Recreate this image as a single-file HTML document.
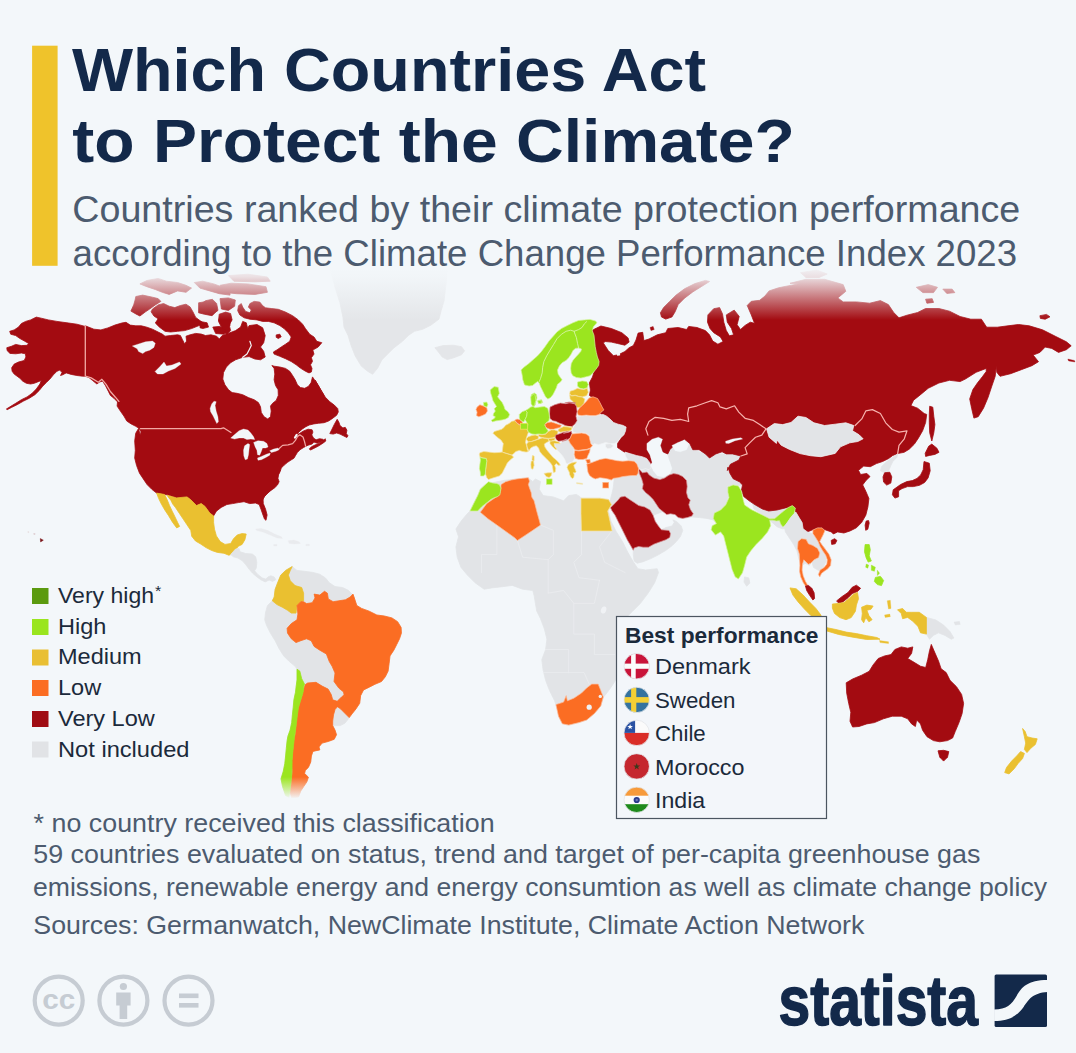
<!DOCTYPE html>
<html><head><meta charset="utf-8"><title>Which Countries Act to Protect the Climate?</title>
<style>
html,body{margin:0;padding:0;background:#f3f7fa;}
body{width:1076px;height:1053px;overflow:hidden;font-family:"Liberation Sans",sans-serif;}
svg{display:block;font-family:"Liberation Sans",sans-serif;}
</style></head><body>
<svg width="1076" height="1053" viewBox="0 0 1076 1053">
<rect width="1076" height="1053" fill="#f3f7fa"/>
<g id="map">
<path d="M85.3,325.8 93.9,329.2 100.9,329.9 107.9,327.9 114.9,325.1 121.8,323.0 126.0,322.3 130.2,325.1 135.8,325.8 141.3,325.8 146.9,327.2 152.5,329.2 158.1,332.0 162.3,334.1 165.0,336.2 170.6,335.5 177.6,334.8 180.4,335.5 182.5,339.7 184.6,343.9 186.6,341.1 186.0,336.2 190.1,334.8 195.7,333.4 201.3,334.1 205.5,335.5 211.0,334.8 216.6,336.2 219.4,339.0 222.2,335.5 230.0,332.7 235.6,330.6 240.6,327.1 242.7,321.4 246.3,322.8 247.7,328.5 249.1,325.6 257.0,324.5 262.7,327.8 265.2,335.6 263.7,342.7 260.5,347.0 263.7,351.3 265.2,357.0 260.5,359.8 254.8,359.0 249.1,356.6 242.7,357.3 235.6,359.8 230.6,362.7 226.4,367.0 223.5,372.6 222.8,379.1 224.9,384.8 228.5,389.7 232.1,392.6 237.0,393.3 242.7,394.7 248.4,397.6 254.1,399.7 258.4,402.6 260.5,406.8 261.3,412.5 264.1,416.8 267.7,418.9 270.5,416.8 271.2,411.1 270.5,406.1 272.6,403.3 276.2,400.4 278.3,395.4 278.1,389.7 275.5,385.5 274.1,379.8 274.8,374.1 274.1,368.4 271.9,365.5 274.1,366.2 279.8,367.0 285.5,368.4 289.7,371.2 292.6,375.5 295.2,379.8 297.4,384.8 300.4,387.5 304.7,388.3 308.5,386.3 311.1,382.6 312.5,376.9 315.4,381.2 318.2,385.5 321.1,391.2 323.9,395.4 315.0,380.0 318.4,385.7 321.8,391.4 325.2,397.1 329.8,401.7 334.3,405.1 337.7,408.5 338.3,411.9 336.6,415.3 332.1,418.7 328.6,421.0 324.1,422.7 318.4,423.3 313.8,423.9 309.3,425.0 305.8,426.7 302.4,429.0 299.0,431.9 296.7,434.7 299.0,433.8 303.6,430.9 308.1,429.2 312.1,429.8 312.9,432.1 311.8,434.9 313.5,438.1 316.1,439.8 319.5,438.7 322.9,439.3 324.1,440.4 320.7,442.1 317.2,443.2 314.0,442.1 312.1,444.0 308.1,445.2 305.8,446.3 303.6,447.5 300.1,449.7 297.3,452.6 295.6,455.4 293.9,458.3 291.0,460.0 287.6,462.3 284.2,465.1 281.3,468.0 280.2,471.4 278.5,474.8 277.9,478.2 279.1,481.7 277.4,485.1 274.5,487.9 270.5,490.8 267.1,493.6 264.2,496.5 262.5,500.0 280.0,470.3 278.1,475.1 277.2,480.8 274.3,485.5 270.6,490.3 266.8,494.1 263.0,497.9 263.3,503.6 265.6,509.3 267.1,515.0 266.0,520.3 264.5,519.1 263.0,515.0 261.1,509.6 259.2,504.5 255.4,503.0 249.7,503.6 244.0,501.7 238.3,502.6 232.6,503.6 226.9,504.5 221.2,507.4 216.4,511.2 213.6,515.9 209.8,513.1 205.0,506.4 201.2,503.6 196.5,505.5 190.8,499.8 187.0,496.9 176.5,497.9 168.0,495.0 156.6,493.1 151.8,489.3 147.1,484.6 143.3,478.9 139.5,473.2 136.6,465.6 134.7,458.0 135.3,450.4 134.7,440.9 135.7,433.3 138.5,428.5 140.3,435.3 141.0,431.8 138.9,428.2 135.3,426.1 131.1,423.9 126.8,421.1 123.9,416.1 120.4,411.1 117.1,406.1 117.5,401.9 114.0,398.3 110.4,395.4 108.3,391.2 105.4,385.5 102.6,381.2 99.7,381.9 96.9,384.0 92.6,380.5 89.0,377.6 85.2,376.2 82.6,376.2 76.9,375.5 71.2,374.4 66.2,372.9 62.7,374.8 60.5,375.5 62.0,372.6 59.8,370.1 57.0,371.2 53.4,374.8 49.9,379.1 46.3,382.6 42.7,386.2 39.2,390.5 34.9,394.7 29.2,398.3 23.5,401.1 17.1,404.7 11.4,407.5 7.1,409.7 6.4,409.0 10.0,406.8 15.7,403.3 21.4,399.7 27.1,396.9 32.1,393.3 36.3,389.0 39.9,384.0 41.3,380.5 37.7,381.9 34.2,383.3 30.6,384.0 26.4,383.3 22.8,381.2 19.9,378.3 17.1,376.2 14.2,374.1 12.1,371.2 11.7,367.7 14.2,364.1 18.5,362.0 24.2,360.5 25.9,357.0 25.4,353.8 21.4,353.0 15.7,353.8 10.0,353.4 7.1,350.6 6.8,347.7 11.4,346.3 15.7,344.4 21.4,345.6 27.1,345.3 28.5,343.4 24.9,341.3 19.9,338.5 15.7,335.6 10.7,334.2 9.7,331.3 14.2,329.9 18.5,327.1 21.4,323.5 25.6,321.4 30.6,319.9 36.3,317.1 41.3,318.2 48.4,319.9 57.0,321.4 67.0,322.8 76.9,324.2 85.2,326.4Z" fill="#a30b11" stroke="#a30b11" stroke-width="0.8" stroke-linejoin="round"/>
<path d="M135.8,296.5 142.7,295.1 152.5,297.2 158.1,298.6 160.9,301.4 155.3,304.9 149.7,309.0 145.5,311.8 139.9,316.0 135.8,313.9 130.9,311.1 133.7,304.9 135.1,300.0Z" fill="#a30b11" stroke="#a30b11" stroke-width="0.8" stroke-linejoin="round"/>
<path d="M152.5,309.0 158.1,304.9 163.6,303.5 169.2,306.2 174.8,307.6 180.4,305.5 186.0,304.2 190.1,306.9 192.9,311.8 195.7,317.4 201.3,321.6 204.1,323.7 198.5,325.8 191.5,328.6 184.6,330.6 177.6,331.3 170.6,332.0 165.0,331.3 159.5,327.2 155.3,323.0 158.1,318.8 153.9,316.0 151.1,311.8Z" fill="#a30b11" stroke="#a30b11" stroke-width="0.8" stroke-linejoin="round"/>
<path d="M139.9,283.9 146.9,280.5 158.1,278.4 166.4,281.2 177.6,282.5 186.0,285.3 191.5,288.1 186.0,292.3 177.6,290.9 169.2,294.4 162.3,292.3 155.3,289.5 146.9,286.7Z" fill="#a30b11" stroke="#a30b11" stroke-width="0.8" stroke-linejoin="round"/>
<path d="M194.3,282.5 202.7,281.2 213.8,283.9 225.0,288.1 230.0,290.9 230.0,295.1 219.4,293.7 209.7,290.9 199.9,288.1Z" fill="#a30b11" stroke="#a30b11" stroke-width="0.8" stroke-linejoin="round"/>
<path d="M199.9,304.9 205.5,300.7 212.4,299.3 216.6,303.5 218.0,310.4 212.4,314.6 205.5,310.4Z" fill="#a30b11" stroke="#a30b11" stroke-width="0.8" stroke-linejoin="round"/>
<path d="M220.8,314.6 226.4,313.2 230.0,316.0 230.0,325.8 223.6,325.8 218.7,320.2Z" fill="#a30b11" stroke="#a30b11" stroke-width="0.8" stroke-linejoin="round"/>
<path d="M198.6,302.8 207.1,301.4 214.2,303.6 216.0,311.4 212.1,315.7 204.3,314.2 198.6,312.8Z" fill="#a30b11" stroke="#a30b11" stroke-width="0.8" stroke-linejoin="round"/>
<path d="M219.2,314.2 225.6,312.1 230.6,313.5 232.1,319.9 229.2,324.9 230.6,330.6 227.1,334.2 222.8,332.1 221.4,327.1 218.5,321.4Z" fill="#a30b11" stroke="#a30b11" stroke-width="0.8" stroke-linejoin="round"/>
<path d="M200.0,321.4 207.1,322.8 208.5,327.1 202.8,328.5 200.0,327.8Z" fill="#a30b11" stroke="#a30b11" stroke-width="0.8" stroke-linejoin="round"/>
<path d="M212.8,327.1 219.9,326.4 225.6,329.9 224.2,334.2 215.7,333.5Z" fill="#a30b11" stroke="#a30b11" stroke-width="0.8" stroke-linejoin="round"/>
<path d="M274.1,354.1 279.8,356.3 285.5,358.7 291.2,361.5 296.2,364.8 300.4,368.1 305.4,371.2 309.0,372.9 311.4,371.9 312.0,368.4 310.5,364.8 312.5,361.3 311.4,357.7 314.0,354.1 312.8,350.1 318.2,347.0 321.8,342.7 316.8,341.3 314.0,337.0 309.7,334.2 305.4,328.5 302.6,324.2 298.3,319.9 292.6,315.7 285.5,312.1 278.3,309.3 271.2,308.5 265.5,307.8 262.7,305.7 259.8,302.1 254.1,301.4 249.9,303.6 248.4,307.1 251.3,310.0 249.9,312.8 245.6,311.4 242.7,307.1 241.3,303.6 238.5,305.7 237.7,310.7 239.9,315.0 244.2,317.8 249.9,319.2 257.0,319.9 262.7,321.4 268.4,321.4 274.1,322.8 279.8,325.6 284.0,328.5 288.3,332.8 291.2,337.0 289.7,341.3 285.5,344.2 281.2,347.0 276.9,349.9 273.4,352.0Z" fill="#a30b11" stroke="#a30b11" stroke-width="0.8" stroke-linejoin="round"/>
<path d="M276.2,334.9 279.8,334.2 281.2,336.8 278.3,338.5 276.2,337.3Z" fill="#a30b11" stroke="#a30b11" stroke-width="0.8" stroke-linejoin="round"/>
<path d="M220.0,298.6 228.4,297.9 235.3,300.0 234.6,306.2 228.4,310.4 221.4,309.0Z" fill="#a30b11" stroke="#a30b11" stroke-width="0.8" stroke-linejoin="round"/>
<path d="M220.0,285.3 231.2,283.2 247.9,283.9 266.0,286.7 267.4,292.3 254.9,294.4 236.7,293.7 222.8,292.3Z" fill="#a30b11" stroke="#a30b11" stroke-width="0.8" stroke-linejoin="round"/>
<path d="M228.4,275.6 247.9,274.2 267.4,277.0 270.2,281.2 254.9,281.8 233.9,281.2Z" fill="#a30b11" stroke="#a30b11" stroke-width="0.8" stroke-linejoin="round"/>
<path d="M329.8,433.6 332.1,429.0 334.3,424.4 337.2,419.3 338.9,422.2 340.0,425.6 342.9,427.9 345.2,427.3 346.9,430.1 346.3,433.6 348.0,435.8 346.9,437.5 343.4,435.8 340.0,434.1 336.6,433.0 333.2,434.1Z" fill="#a30b11" stroke="#a30b11" stroke-width="0.8" stroke-linejoin="round"/>
<path d="M309.3,448.9 311.5,446.7 315.0,445.0 319.5,443.2 322.9,441.0 325.2,438.7 325.8,441.0 322.9,443.2 318.4,446.1 313.8,448.4 310.4,450.1Z" fill="#a30b11" stroke="#a30b11" stroke-width="0.8" stroke-linejoin="round"/>
<path d="M40.3,538.6 43.3,540.2 40.6,541.9Z" fill="#7a1418" stroke="#7a1418" stroke-width="0.5" stroke-linejoin="round"/>
<path d="M33.6,533.4 35.2,533.6 35,534.6 33.8,534.4Z" fill="#d9c6c8" stroke="#d9c6c8" stroke-width="0.3" stroke-linejoin="round"/>
<path d="M27.8,531.6 29,531.8 28.8,532.6 27.8,532.4Z" fill="#e3d9da" stroke="#e3d9da" stroke-width="0.3" stroke-linejoin="round"/>
<path d="M132.3,346.0 138.6,343.9 145.5,341.8 152.5,341.1 155.3,343.2 153.9,347.4 149.7,350.2 145.5,351.6 142.7,353.6 138.6,351.6 137.2,348.8Z" fill="#f3f7fa" stroke="#f3f7fa" stroke-width="0.3" stroke-linejoin="round"/>
<path d="M155,371.5 160,366.5 164,362 166.5,366 172,365 179.5,362 181,364 175,368.5 168.5,371 163,374 157.5,374Z" fill="#f3f7fa" stroke="#f3f7fa" stroke-width="0.3" stroke-linejoin="round"/>
<path d="M214.0,401.2 216.2,401.7 215.1,405.6 216.2,411.2 217.9,416.8 218.4,421.8 216.8,423.5 215.1,420.1 212.9,415.6 210.6,411.7 210.1,408.4 211.7,403.9Z" fill="#f3f7fa" stroke="#f3f7fa" stroke-width="0.3" stroke-linejoin="round"/>
<path d="M230.7,438.0 234.6,434.6 239.1,430.7 243.5,429.0 248.0,430.1 250.8,432.9 253.6,436.8 254.7,439.6 250.8,439.1 246.9,439.6 243.5,438.0 239.1,438.0 234.6,439.1Z" fill="#f3f7fa" stroke="#f3f7fa" stroke-width="0.3" stroke-linejoin="round"/>
<path d="M244.6,445.8 248.0,443.5 249.7,444.6 249.1,449.1 248.5,454.7 247.4,459.1 245.2,459.7 243.8,455.8 243.5,450.2Z" fill="#f3f7fa" stroke="#f3f7fa" stroke-width="0.3" stroke-linejoin="round"/>
<path d="M253.6,442.4 258.0,440.7 263.6,441.3 266.9,443.5 268.1,446.9 265.8,448.0 262.5,448.0 261.4,451.3 259.7,455.2 257.5,454.7 256.9,450.2 255.2,446.9Z" fill="#f3f7fa" stroke="#f3f7fa" stroke-width="0.3" stroke-linejoin="round"/>
<path d="M257.5,458.0 261.4,456.4 266.9,454.1 270.3,453.0 269.7,455.2 265.8,457.5 261.4,459.7 258.0,460.3Z" fill="#f3f7fa" stroke="#f3f7fa" stroke-width="0.3" stroke-linejoin="round"/>
<path d="M269.7,450.8 273.6,449.1 278.1,448.0 279.2,449.7 275.9,451.3 271.4,452.5Z" fill="#f3f7fa" stroke="#f3f7fa" stroke-width="0.3" stroke-linejoin="round"/>
<path d="M242.7,357.3 247.0,354.1 249.1,349.9 251.3,345.6 249.9,341.3" fill="none" stroke="#f3f7fa" stroke-width="1.2" stroke-linejoin="round" stroke-linecap="round"/>
<path d="M295.0,437.5 296.7,434.9" fill="none" stroke="#f3f7fa" stroke-width="2.2" stroke-linejoin="round" stroke-linecap="round"/>
<path d="M85.3,326 85.3,376 91.2,377.9 98.3,382.2 101.9,379.3 106.1,384.3 110.4,391.5 115.4,397.2 118.9,401.4" fill="none" stroke="#f2a9a5" stroke-width="1.3" stroke-linejoin="round" stroke-linecap="round"/>
<path d="M140.5,428.7 221,428.7 223.5,427.8 231,432.5" fill="none" stroke="#f2a9a5" stroke-width="1.3" stroke-linejoin="round" stroke-linecap="round"/>
<path d="M279.2,448.5 282.6,445.4 288.1,444.8 292.6,443.6 295.4,440.4 297.6,436.5 299.8,434.8 300.1,434.9 303.0,437.0 304.5,441.5 305.6,446.1" fill="none" stroke="#f2a9a5" stroke-width="1.2" stroke-linejoin="round" stroke-linecap="round"/>
<path d="M167.0,495.2 176.5,497.9 187.0,496.9 190.8,499.8 196.5,505.5 201.2,503.6 205.0,506.4 209.8,513.1 213.6,515.9 213.6,522.6 214.5,529.2 216.4,535.9 220.2,541.6 225.0,544.4 230.7,543.5 233.5,538.7 237.3,534.9 242.1,533.6 246.2,534.0 244.9,539.7 242.1,544.4 238.3,546.3 234.5,551.1 232.6,553.9 228.8,555.2 224.0,553.3 217.4,552.4 211.7,550.5 206.0,547.6 200.3,543.8 195.5,541.0 191.7,536.2 190.8,530.5 187.0,524.8 183.2,519.1 179.4,513.4 175.6,507.7 172.7,504.0 170.8,500.2 168.9,497.9Z" fill="#eac030" stroke="#eac030" stroke-width="0.8" stroke-linejoin="round"/>
<path d="M156.6,493.1 164.6,494.5 167.2,499.8 169.5,505.5 172.2,511.2 175.0,516.9 177.7,522.6 179.6,526.4 176.7,527.9 172.5,522.2 168.6,515.7 164.8,510.0 161.5,504.3 158.7,498.6Z" fill="#eac030" stroke="#eac030" stroke-width="0.8" stroke-linejoin="round"/>
<path d="M230.6,554.6 235.6,549.0 239.0,548.5 240.1,551.8 245.7,553.5 252.4,554.1 255.7,556.8 256.8,562.4 256.3,568.0 254.6,570.8 258.0,574.7 262.4,578.0 265.8,579.1 268.0,576.9 270.8,575.8 274.1,576.9 275.8,579.7 272.5,581.4 269.1,580.0 265.2,581.9 260.7,579.7 256.3,576.4 252.4,573.0 249.0,569.1 245.7,564.6 242.3,560.7 237.9,558.0 233.4,556.8Z" fill="#e2e4e7" stroke="#e2e4e7" stroke-width="0.8" stroke-linejoin="round"/>
<path d="M255.7,529.0 261.3,528.4 268.0,530.6 274.7,534.0 281.4,536.8 282.5,538.4 276.9,537.9 270.2,535.1 263.5,532.3 256.8,530.6Z" fill="#e9ebee" stroke="#e9ebee" stroke-width="0.3" stroke-linejoin="round"/>
<path d="M288.1,540.7 293.6,540.1 299.2,541.8 300.3,543.5 294.8,544.0 289.2,543.5Z" fill="#e9ebee" stroke="#e9ebee" stroke-width="0.3" stroke-linejoin="round"/>
<path d="M273.6,544.6 276.9,544.3 277.1,545.9 273.8,546.1Z" fill="#e9ebee" stroke="#e9ebee" stroke-width="0.3" stroke-linejoin="round"/>
<path d="M305.9,544.3 309.3,544.3 309.3,545.7 305.9,545.7Z" fill="#e9ebee" stroke="#e9ebee" stroke-width="0.3" stroke-linejoin="round"/>
<path d="M292.2,566.6 297.0,570.4 304.6,571.3 312.2,572.3 319.8,574.2 325.5,578.0 329.3,582.7 335.0,586.5 342.6,587.5 348.3,590.3 352.1,594.1 354.0,597.0 356.8,605.5 361.6,608.4 369.2,611.2 376.8,615.0 384.3,616.0 391.9,617.9 397.6,621.7 401.1,627.4 401.4,633.1 399.5,638.8 396.7,644.5 393.8,650.2 390.0,655.9 389.1,663.5 388.1,671.1 385.3,676.8 381.5,681.5 374.9,684.3 369.2,687.2 363.5,690.0 360.6,695.7 359.7,703.3 355.9,709.0 352.1,713.8 349.2,717.6 347.9,719.5 344.8,723.3 340.3,725.6 335.7,725.6 332.7,725.6 335.0,730.1 336.5,734.7 334.2,739.3 328.1,741.5 322.1,743.1 319.0,746.9 319.8,749.9 316.0,750.7 312.9,751.4 311.4,756.0 310.7,762.1 308.4,767.4 305.3,770.4 304.6,773.5 308.4,777.2 306.9,781.8 303.8,786.4 300.8,790.9 298.5,797.0 288.6,797.0 285.6,795.5 282.5,786.4 281.0,778.8 283.3,771.2 284.8,763.6 285.6,756.0 286.3,748.4 287.1,740.8 287.9,736.2 290.1,730.1 291.7,722.5 292.4,714.9 293.2,707.4 293.9,699.8 295.5,692.2 296.2,686.1 297.0,680.0 297.0,669.2 295.1,666.3 289.4,661.6 283.7,655.9 278.9,648.3 275.1,640.7 270.4,633.1 266.6,625.5 264.7,619.8 265.6,612.2 267.5,605.5 272.3,600.8 274.2,597.0 275.1,589.4 278.0,581.8 280.8,575.1 285.6,570.4 292.2,566.6Z" fill="#e2e4e7" stroke="#e2e4e7" stroke-width="0.8" stroke-linejoin="round"/>
<path d="M292.2,566.6 285.6,570.4 280.8,575.1 278.0,581.8 275.1,589.4 274.2,597.0 272.3,600.8 277.0,604.6 282.7,607.4 287.5,610.3 291.3,613.1 296.0,613.1 297.0,605.5 300.8,601.7 303.6,600.8 303.6,593.2 301.7,587.5 295.1,585.6 290.3,580.8 288.4,575.1 290.3,570.4Z" fill="#eac030" stroke="#eac030" stroke-width="0.8" stroke-linejoin="round"/>
<path d="M297.0,605.5 300.8,601.7 303.6,601.7 306.5,603.6 312.2,602.7 315.0,597.9 314.1,594.1 319.8,595.1 324.5,591.3 327.4,593.2 328.3,598.9 333.1,601.7 338.8,600.8 345.4,599.8 350.2,597.0 353.0,594.1 354.0,597.0 356.8,605.5 361.6,608.4 369.2,611.2 376.8,615.0 384.3,616.0 391.9,617.9 397.6,621.7 401.1,627.4 401.4,633.1 399.5,638.8 396.7,644.5 393.8,650.2 390.0,655.9 389.1,663.5 388.1,671.1 385.3,676.8 381.5,681.5 374.9,684.3 369.2,687.2 363.5,690.0 360.6,695.7 359.7,703.3 355.9,709.0 352.1,713.8 349.2,717.6 345.4,713.8 340.7,709.0 336.9,706.2 340.7,701.4 344.5,696.7 343.5,691.9 338.8,688.1 334.0,681.5 335.0,673.0 332.1,666.3 329.3,661.6 326.4,654.0 319.8,650.2 314.1,646.4 311.2,640.7 306.5,638.8 300.8,640.7 296.0,642.6 291.3,638.8 287.5,633.1 287.1,628.3 291.3,623.6 297.0,619.8 297.9,614.1Z" fill="#fb6d23" stroke="#fb6d23" stroke-width="0.8" stroke-linejoin="round"/>
<path d="M307.6,683.0 316.0,682.3 322.1,686.1 328.1,689.1 331.2,694.4 332.7,699.8 337.2,701.3 341.8,696.7 344.8,694.4 343.3,699.8 338.8,705.1 335.0,709.6 333.5,714.9 332.7,721.0 332.7,725.6 335.0,730.1 336.5,734.7 334.2,739.3 328.1,741.5 322.1,743.1 319.0,746.9 319.8,749.9 316.0,750.7 312.9,751.4 311.4,756.0 310.7,762.1 308.4,767.4 305.3,770.4 304.6,773.5 308.4,777.2 306.9,781.8 303.8,786.4 300.8,790.9 298.5,797.0 291.7,797.8 290.1,792.4 290.9,786.4 291.7,778.8 292.4,771.2 291.7,763.6 292.4,756.0 293.2,748.4 293.9,740.8 295.5,733.2 296.2,725.6 297.0,718.0 297.7,710.4 300.0,702.8 302.3,695.2 303.8,689.1 305.3,684.6Z" fill="#fb6d23" stroke="#fb6d23" stroke-width="0.8" stroke-linejoin="round"/>
<path d="M297.0,669.2 299.8,671.1 301.7,678.7 304.6,684.3 303.8,686.1 303.1,692.2 300.8,699.8 298.5,707.4 297.4,714.9 296.5,722.5 295.5,730.1 294.4,737.7 293.5,745.3 292.7,752.9 292.1,760.5 292.0,768.1 291.7,775.7 290.9,783.3 290.1,789.4 288.9,797.3 288.6,797.0 285.6,795.5 282.5,786.4 281.0,778.8 283.3,771.2 284.8,763.6 285.6,756.0 286.3,748.4 287.1,740.8 287.9,736.2 290.1,730.1 291.7,722.5 292.4,714.9 293.2,707.4 293.9,699.8 295.5,692.2 296.2,686.1 297.0,680.0Z" fill="#9be51f" stroke="#9be51f" stroke-width="0.8" stroke-linejoin="round"/>
<path d="M613.6,478.3 614.1,480.0 613.6,484.6 613.0,489.1 611.9,493.7 610.7,498.3 609.0,504.7 610.5,507.7 612.0,510.8 615.1,515.3 618.1,521.4 621.2,527.5 624.2,533.6 627.2,539.7 630.3,545.0 633.3,550.3 633.3,554.8 634.1,560.9 637.1,563.2 643.2,561.7 650.8,558.6 658.4,554.8 666.0,550.3 672.1,545.7 676.6,541.2 680.4,536.6 682.7,530.5 681.2,526.0 676.6,521.4 672.8,519.9 674.3,522.2 672.1,526.0 666.0,527.5 661.4,529.8 658.4,526.0 655.3,521.4 653.1,515.3 662.9,511.5 675.1,514.6 687.2,517.6 691.8,516.9 699.4,517.6 707.0,518.4 713.1,519.9 715.4,522.2 716.1,513.8 726.8,503.2 730.6,487.2 742.0,484.9 727.3,470.6 730.4,464.3 738.8,460.1 740.9,456.0 732.5,453.9 726.3,453.9 715.8,453.9 705.4,453.9 692.8,449.7 684.5,439.2 669.8,449.7 667.8,453.9 671.9,468.5 669.8,473.7 663.6,476.9 657.3,475.8 653.1,470.6 649.0,464.3 642.7,462.2 637.5,459.1 625.0,452.1 628.4,460.4 634.1,461.2 628.4,462.9 617.0,469.8Z" fill="#e2e4e7" stroke="#e2e4e7" stroke-width="0.8" stroke-linejoin="round"/>
<path d="M751.9,500.6 795.8,504.8 797.9,515.2 790.6,527.8 782.2,528.8 777.0,526.7 768.7,519.4 754.0,509.0Z" fill="#e2e4e7" stroke="#e2e4e7" stroke-width="0.8" stroke-linejoin="round"/>
<path d="M593.6,329.5 600.9,326.0 611.3,328.5 621.8,332.7 628.1,337.9 629.1,342.1 624.9,345.2 617.6,343.5 611.3,342.1 605.1,341.5 603.4,343.1 608.2,350.4 613.4,355.7 618.7,354.6 624.9,351.5 629.1,347.7 633.3,345.6 636.0,340.0 638.1,333.1 642.7,332.3 643.9,340.6 649.0,339.0 657.3,334.8 665.7,332.7 667.8,328.5 678.2,327.5 686.6,329.5 688.7,326.4 697.0,327.5 705.4,330.6 709.5,334.8 712.7,341.0 717.9,344.2 723.1,341.5 720.4,336.9 713.7,332.7 710.0,328.5 707.5,322.2 707.9,314.9 713.7,308.7 719.6,307.6 722.5,313.9 723.8,322.2 726.3,330.6 729.4,335.8 733.6,334.8 731.5,328.5 727.3,322.2 726.3,314.9 734.2,310.1 739.2,316.4 737.1,324.7 740.5,329.5 745.1,325.4 750.3,322.2 754.5,323.3 751.3,314.9 747.2,305.5 751.3,301.3 759.7,300.3 764.9,296.1 769.1,290.9 778.5,287.8 788.9,285.7 800.0,283.6 790.0,283.3 805.9,279.3 824.6,279.3 843.2,284.6 845.8,291.3 837.8,297.9 843.2,301.9 856.5,301.9 869.7,303.2 880.4,300.6 888.4,304.6 893.7,312.5 899.0,317.8 907.0,315.2 917.6,312.5 925.6,308.5 938.9,308.5 949.5,311.2 960.1,316.5 970.8,319.2 981.4,319.2 986.7,327.2 997.3,327.2 1008.0,325.8 1018.6,324.5 1029.2,325.8 1042.5,329.8 1055.8,336.5 1066.4,341.8 1071.2,345.8 1066.4,349.7 1058.5,352.4 1051.8,348.4 1045.2,347.1 1039.9,352.4 1033.2,355.1 1038.5,361.7 1031.9,365.7 1021.3,369.7 1010.6,373.7 1000.0,376.3 996.8,372.3 996.3,366.2 995.2,376.3 991.5,387.0 988.0,397.6 983.5,408.2 978.2,416.7 973.9,418.1 971.6,408.2 969.7,398.9 972.9,389.6 977.4,383.0 982.7,376.3 986.2,371.5 986.2,368.4 976.1,372.3 965.4,379.0 960.1,381.6 949.5,380.3 938.9,383.0 928.2,388.3 920.2,394.9 913.6,400.2 910.9,405.6 917.6,408.2 924.2,413.5 926.7,414.4 925.6,422.6 922.6,430.8 918.5,437.9 914.4,444.1 909.2,449.2 904.1,452.3 899.0,453.3 892.8,455.4 888.7,458.5 882.6,461.5 876.4,463.6 870.3,466.7 863.7,466.1 858.5,470.3 860.6,474.5 866.9,473.4 870.0,476.6 865.8,480.7 862.7,484.9 865.8,491.2 868.9,498.5 867.9,506.9 865.8,515.2 861.6,522.5 856.4,527.8 850.1,530.9 843.9,533.0 837.6,531.9 833.4,534.0 831.3,531.9 825.1,529.8 818.8,527.8 812.5,529.8 807.3,531.9 803.1,528.8 802.1,522.5 798.9,517.3 795.8,512.1 793.7,506.9 785.4,507.9 777.0,510.0 768.7,511.0 762.4,509.0 755.1,504.8 748.8,500.6 743.6,496.4 741.5,490.1 742.5,484.9 739.4,481.8 733.1,478.7 730.0,473.4 727.9,467.2 727.3,470.6 730.4,464.3 738.8,460.1 740.9,456.0 732.5,453.9 726.3,453.9 722.1,451.8 715.8,453.9 709.5,458.0 705.4,453.9 699.1,449.7 692.8,449.7 689.7,443.4 684.5,439.2 676.1,443.4 669.8,449.7 667.8,453.9 662.5,451.8 650.0,454.9 652.1,462.2 649.0,465.4 642.7,463.3 637.5,459.1 632.2,456.0 623.9,451.8 617.6,447.6 617.6,443.4 621.4,437.6 623.9,431.9 621.4,427.8 613.0,424.0 604.7,419.2 598.8,411.2 598.4,404.8 595.0,399.1 589.4,395.4 590.4,390.1 589.4,382.8 592.5,377.0 594.6,370.3 596.7,361.9 594.6,353.6 592.5,345.2 590.0,336.9 591.5,330.6Z" fill="#a30b11" stroke="#a30b11" stroke-width="0.8" stroke-linejoin="round"/>
<path d="M660.4,312.8 663.6,307.6 669.8,301.3 676.1,295.1 684.5,288.8 694.9,283.6 705.4,280.4 709.5,281.5 701.2,286.7 692.8,291.9 684.5,298.2 678.2,304.5 675.1,311.8 671.9,317.0 665.7,319.1 661.5,317.0Z" fill="#a30b11" stroke="#a30b11" stroke-width="0.8" stroke-linejoin="round"/>
<path d="M650.0,327.5 653.1,326.4 654.2,329.5 651.0,330.6Z" fill="#a30b11" stroke="#a30b11" stroke-width="0.4" stroke-linejoin="round"/>
<path d="M916.3,287.3 928.2,284.6 937.5,287.3 933.5,292.6 922.9,292.6Z" fill="#a30b11" stroke="#a30b11" stroke-width="0.8" stroke-linejoin="round"/>
<path d="M942.8,289.1 952.1,289.1 954.8,292.6 946.8,293.4Z" fill="#a30b11" stroke="#a30b11" stroke-width="0.8" stroke-linejoin="round"/>
<path d="M925.6,299.2 932.2,298.7 933.5,302.4 926.9,303.2Z" fill="#a30b11" stroke="#a30b11" stroke-width="0.8" stroke-linejoin="round"/>
<path d="M1039.9,315.7 1046.5,314.4 1050.0,316.8 1045.2,319.2 1040.4,318.4Z" fill="#a30b11" stroke="#a30b11" stroke-width="0.8" stroke-linejoin="round"/>
<path d="M1067.8,359.0 1074.4,360.4 1075.0,362.0 1068.6,360.9Z" fill="#a30b11" stroke="#a30b11" stroke-width="0.3" stroke-linejoin="round"/>
<path d="M800.6,272.7 816.6,270.0 827.2,274.0 819.2,277.4 805.9,277.4Z" fill="#a30b11" stroke="#a30b11" stroke-width="0.8" stroke-linejoin="round"/>
<path d="M929.7,406.2 932.8,407.2 933.8,416.4 934.9,424.6 933.8,432.8 931.8,441.0 929.7,432.8 929.3,422.6 929.3,414.4Z" fill="#a30b11" stroke="#a30b11" stroke-width="0.8" stroke-linejoin="round"/>
<path d="M928.7,446.2 931.8,444.1 936.9,448.2 939.0,452.3 934.9,454.4 929.7,455.4 925.6,456.4 925.2,453.3Z" fill="#a30b11" stroke="#a30b11" stroke-width="0.8" stroke-linejoin="round"/>
<path d="M924.0,461.5 929.3,463.2 930.2,470.8 928.1,477.9 924.6,482.5 919.5,485.3 913.3,486.6 907.6,486.6 902.1,488.6 898.6,490.7 898.6,496.8 894.9,498.1 892.4,494.8 893.2,489.8 900.6,484.5 906.8,481.6 912.3,480.6 917.0,478.4 920.7,474.9 923.2,469.7Z" fill="#a30b11" stroke="#a30b11" stroke-width="0.8" stroke-linejoin="round"/>
<path d="M897.9,453.7 893.8,456.4 889.7,459.5 885.6,462.6 881.5,466.7 880.5,470.8 884.6,472.8 888.7,470.8 890.8,465.6 892.8,461.5 896.9,457.4Z" fill="#e2e4e7" stroke="#e2e4e7" stroke-width="0.8" stroke-linejoin="round"/>
<path d="M884.6,472.8 889.7,472.2 891.8,476.9 890.8,483.1 886.7,485.1 883.6,482.1 883.0,476.9Z" fill="#a30b11" stroke="#a30b11" stroke-width="0.8" stroke-linejoin="round"/>
<path d="M866.2,521.0 868.6,520.6 869.2,523.1 867.8,529.2 865.7,530.3 865.1,525.1Z" fill="#a30b11" stroke="#a30b11" stroke-width="0.8" stroke-linejoin="round"/>
<path d="M831.2,540.4 834.6,538.7 836.9,540.4 835.2,543.8 831.7,544.4Z" fill="#a30b11" stroke="#a30b11" stroke-width="0.8" stroke-linejoin="round"/>
<path d="M766.6,428.8 774.3,423.6 782.7,424.6 791.0,422.5 798.0,416.2 805.9,417.5 813.9,422.8 824.6,425.5 835.2,424.2 845.8,422.8 853.8,425.5 852.5,430.8 859.1,434.8 863.1,438.8 857.8,441.5 849.8,442.8 840.5,446.8 835.2,453.4 820.9,456.7 810.4,455.7 800.0,453.6 789.5,449.4 781.2,445.2 777.0,440.0 776.4,443.4 769.1,437.2Z" fill="#e2e4e7" stroke="#f1f2f4" stroke-width="0.8" stroke-linejoin="round"/>
<path d="M646.9,443.4 652.1,439.2 658.4,437.2 662.5,439.2 660.4,445.5 662.5,451.8 666.7,457.0 669.8,462.2 671.9,468.5 669.8,473.7 663.6,476.9 657.3,475.8 653.1,470.6 652.1,462.2 650.0,454.9 646.9,449.7Z" fill="#f3f7fa" stroke="#f3f7fa" stroke-width="0.3" stroke-linejoin="round"/>
<path d="M671.9,445.5 678.2,442.4 684.5,440.3 688.7,444.5 686.6,449.7 680.3,451.8 675.1,450.7Z" fill="#f3f7fa" stroke="#f3f7fa" stroke-width="0.3" stroke-linejoin="round"/>
<path d="M725.6,441.3 732.5,439.0 740.9,437.8 742.6,439.0 735.0,440.7 728.8,443.4 725.8,443.2Z" fill="#f3f7fa" stroke="#f3f7fa" stroke-width="0.3" stroke-linejoin="round"/>
<path d="M616.6,352.5 619.7,351.9 620.1,355.2 617.2,355.7Z" fill="#f3f7fa" stroke="#f3f7fa" stroke-width="0.2" stroke-linejoin="round"/>
<path d="M647.9,435.1 645.8,428.8 649.0,421.5 655.2,417.3 663.6,418.3 671.9,420.4 680.3,419.4 688.7,421.5 687.6,414.2 688.7,407.9 697.0,405.8 705.4,402.7 711.6,400.6 717.9,402.7 720.0,406.9 726.3,408.9 734.6,405.8 738.8,412.1 745.1,418.3 753.4,420.4 759.7,424.6 766.0,428.8 761.8,435.1 755.5,437.2 749.2,443.4 745.1,447.6 747.2,453.9 740.9,456.0" fill="none" stroke="#f6b3ae" stroke-width="1.2" stroke-linejoin="round" stroke-linecap="round"/>
<path d="M855.1,425.5 861.8,418.9 865.8,410.9 872.4,409.6 880.4,413.5 885.7,422.8 892.3,429.5 899.0,432.1 907.0,430.8 904.3,438.8 899.0,445.4 897.7,453.4" fill="none" stroke="#f6b3ae" stroke-width="1.2" stroke-linejoin="round" stroke-linecap="round"/>
<path d="M638.6,468.2 642.4,472.8 647.0,472.0 649.3,475.1 653.8,478.1 659.9,479.6 664.5,478.1 669.0,475.1 673.6,473.6 678.1,474.3 682.7,476.6 686.5,480.4 687.2,486.5 686.5,492.5 688.0,497.9 690.3,500.1 688.8,504.7 690.3,509.3 693.3,513.8 691.8,516.1 687.2,517.6 682.7,518.4 678.1,517.6 675.1,514.6 670.5,513.8 666.7,514.6 662.9,511.5 659.1,508.5 656.1,503.9 653.1,499.4 649.3,495.6 645.5,492.5 642.4,488.7 643.2,484.2 641.7,478.9 639.4,473.6Z" fill="#a30b11" stroke="#d59193" stroke-width="0.7" stroke-linejoin="round"/>
<path d="M610.5,507.7 614.3,503.9 618.1,500.1 620.4,497.1 624.9,496.3 629.5,499.4 634.1,502.4 638.6,505.5 644.7,507.0 650.0,510.0 653.1,515.3 655.3,521.4 658.4,526.0 661.4,529.8 669.0,530.5 670.5,533.6 669.8,537.4 666.0,539.7 659.9,541.9 653.8,544.2 648.5,547.2 643.2,547.2 638.6,546.5 634.1,548.0 633.3,550.3 630.3,545.0 627.2,539.7 624.2,533.6 621.2,527.5 618.1,521.4 615.1,515.3 612.0,510.8Z" fill="#a30b11" stroke="#d59193" stroke-width="0.7" stroke-linejoin="round"/>
<path d="M727.9,487.0 733.1,484.9 738.4,486.0 741.5,491.2 743.2,499.5 744.6,505.0 751.3,509.6 762.8,515.2 769.7,518.8 774.7,518.6 779.1,514.8 783.7,511.0 787.9,507.7 792.3,505.6 795.4,508.1 794.1,513.5 790.4,517.7 787.9,521.9 785.4,525.2 782.9,526.9 780.6,524.0 779.5,520.7 776.2,521.1 772.8,520.2 769.7,520.2 770.7,525.7 767.6,531.9 762.4,538.2 756.1,544.5 750.9,550.7 746.7,557.0 744.6,565.4 742.5,572.7 738.4,578.9 735.2,576.9 732.1,569.5 730.0,561.2 727.9,552.8 725.8,544.5 723.7,536.1 720.6,531.9 715.4,535.1 711.2,529.8 712.2,525.7 716.4,523.6 713.3,518.4 714.3,513.1 720.6,510.0 725.8,504.8 729.0,497.5 727.9,492.2Z" fill="#9be51f" stroke="#d2f39a" stroke-width="0.7" stroke-linejoin="round"/>
<path d="M744.6,576.9 748.8,577.9 749.8,583.1 746.7,586.3 744.0,582.1Z" fill="#e2e4e7" stroke="#e2e4e7" stroke-width="0.8" stroke-linejoin="round"/>
<path d="M793.7,514.2 795.8,512.1 798.9,517.3 802.1,522.5 803.1,528.8 807.3,531.9 812.5,534.0 816.7,538.2 820.9,543.4 825.1,548.7 826.1,561.2 823.0,567.5 818.8,570.6 813.6,567.5 811.5,561.2 809.4,565.4 805.2,563.3 802.1,565.4 798.9,559.1 796.9,550.7 793.7,544.5 789.5,538.2 785.4,531.9 784.3,526.7 789.5,519.4Z" fill="#e2e4e7" stroke="#e2e4e7" stroke-width="0.8" stroke-linejoin="round"/>
<path d="M798.1,541.5 801.5,538.7 806.1,539.3 808.4,543.8 812.9,545.5 817.5,548.4 819.8,552.9 818.6,557.5 814.1,559.8 810.7,563.2 808.4,564.3 806.1,562.1 803.8,559.8 802.5,564.3 802.1,570.0 803.2,575.7 805.5,581.4 807.5,584.8 805.5,586.2 803.2,582.6 800.7,576.9 799.5,571.2 799.9,565.5 799.6,559.8 799.3,554.1 797.5,548.4Z" fill="#fb6d23" stroke="#fdbd9c" stroke-width="0.7" stroke-linejoin="round"/>
<path d="M812.9,530.1 817.5,527.9 822.1,527.9 824.9,530.7 823.2,534.7 821.5,538.1 819.8,541.5 822.1,545.0 825.5,549.5 828.9,554.1 831.2,559.8 830.6,565.5 827.7,568.9 824.3,571.2 821.5,573.4 819.8,576.9 818.4,574.6 820.1,570.0 824.1,567.5 826.8,564.1 827.3,559.8 825.7,555.2 822.8,550.9 820.0,546.3 818.2,541.8 815.4,537.2 812.9,533.6Z" fill="#fb6d23" stroke="#fdbd9c" stroke-width="0.7" stroke-linejoin="round"/>
<path d="M805.5,586.0 808.4,585.4 811.8,588.3 814.1,592.8 814.6,598.5 812.9,600.0 809.5,595.1 806.7,590.5Z" fill="#a30b11" stroke="#a30b11" stroke-width="0.8" stroke-linejoin="round"/>
<path d="M836.6,600.9 841.8,596.7 848.0,592.5 852.2,587.3 856.4,585.2 860.6,588.3 857.5,591.5 852.2,593.6 848.0,597.8 842.8,601.9 838.6,603.0Z" fill="#a30b11" stroke="#a30b11" stroke-width="0.8" stroke-linejoin="round"/>
<path d="M790.0,587.9 796.2,588.8 803.1,595.0 809.6,602.1 815.9,608.4 820.9,615.1 823.0,622.2 817.1,621.4 810.4,615.1 804.2,608.8 797.9,601.7 792.9,595.0Z" fill="#eac030" stroke="#eac030" stroke-width="0.8" stroke-linejoin="round"/>
<path d="M832.4,604.0 838.6,603.4 843.9,602.6 849.1,598.4 853.3,594.2 857.5,592.5 858.5,598.8 856.4,605.1 855.4,611.3 851.2,617.6 846.0,619.7 839.7,617.6 834.5,613.4 832.4,608.2Z" fill="#eac030" stroke="#eac030" stroke-width="0.8" stroke-linejoin="round"/>
<path d="M861.6,607.2 866.9,605.1 873.1,606.1 871.0,609.2 866.9,610.3 868.9,615.5 872.1,619.7 868.9,621.8 865.8,617.6 863.7,622.8 861.6,619.7 862.3,613.4Z" fill="#eac030" stroke="#eac030" stroke-width="0.8" stroke-linejoin="round"/>
<path d="M826.9,627.7 835.9,629.5 846.2,632.1 856.4,633.6 866.7,635.7 876.9,637.5 880.0,639.2 866.7,639.5 851.3,636.9 838.5,634.4 826.9,631.0Z" fill="#eac030" stroke="#eac030" stroke-width="0.8" stroke-linejoin="round"/>
<path d="M865.1,544.6 869.2,544.6 870.3,549.7 869.2,555.9 871.3,561.0 868.2,562.1 866.2,557.9 864.5,551.8Z" fill="#9be51f" stroke="#9be51f" stroke-width="0.8" stroke-linejoin="round"/>
<path d="M871.3,565.1 875.4,567.2 874.4,571.3 871.3,570.3Z" fill="#9be51f" stroke="#9be51f" stroke-width="0.4" stroke-linejoin="round"/>
<path d="M877.4,570.3 879.5,573.3 877.4,575.4Z" fill="#9be51f" stroke="#9be51f" stroke-width="0.4" stroke-linejoin="round"/>
<path d="M875.4,577.4 880.5,576.4 883.6,580.5 881.5,585.6 877.4,584.6 874.4,581.5Z" fill="#9be51f" stroke="#9be51f" stroke-width="0.8" stroke-linejoin="round"/>
<path d="M866.2,564.1 868.6,565.1 867.8,568.2 865.7,567.2Z" fill="#9be51f" stroke="#9be51f" stroke-width="0.4" stroke-linejoin="round"/>
<path d="M485.4,484.1 504.6,480.3 527.7,477.7 532.8,481.5 535.4,479.0 540.5,481.5 539.2,489.2 543.1,495.6 553.3,496.9 563.6,500.8 568.7,495.6 576.4,494.4 580.3,496.9 581.5,498.2 599.5,498.2 608.5,499.5 611.0,503.3 608.5,511.0 611.0,521.3 616.2,531.5 622.6,541.8 627.7,552.1 632.8,561.0 637.9,568.7 645.6,570.0 657.2,568.7 658.5,572.6 654.6,582.8 648.2,593.1 640.5,603.3 632.8,611.0 625.1,618.7 620.0,623.8 618.7,629.0 619.5,644.4 619.5,664.9 617.9,676.4 612.3,685.4 607.2,692.6 603.6,696.9 600.8,705.9 594.4,713.6 586.7,720.0 579.0,722.6 568.7,725.1 562.3,723.8 558.5,716.2 557.2,708.5 554.6,700.8 549.5,690.5 545.6,680.3 543.1,670.0 541.8,659.7 545.6,649.5 546.9,639.2 544.4,629.0 540.5,618.7 536.7,611.0 535.4,603.3 534.1,595.6 532.8,590.5 522.6,589.2 512.3,585.4 502.1,586.7 491.8,587.9 484.1,589.2 475.1,582.8 467.4,575.1 461.0,567.4 457.2,557.2 455.9,546.9 458.5,536.7 455.9,529.0 461.0,521.3 466.2,514.9 470.0,511.0 473.8,503.3 477.7,495.6 480.3,489.2Z" fill="#e2e4e7" stroke="#e2e4e7" stroke-width="0.8" stroke-linejoin="round"/>
<path d="M496.9,525.1 496.9,554.6 481.5,554.6 481.5,572.6" fill="none" stroke="#eceef1" stroke-width="0.7" stroke-linejoin="round" stroke-linecap="round"/>
<path d="M517.4,540.5 522.6,557.2 548.2,559.7 548.2,593.1" fill="none" stroke="#eceef1" stroke-width="0.7" stroke-linejoin="round" stroke-linecap="round"/>
<path d="M540.5,525.1 553.3,530.3 553.3,554.6 548.2,559.7" fill="none" stroke="#eceef1" stroke-width="0.7" stroke-linejoin="round" stroke-linecap="round"/>
<path d="M581.5,531.0 581.5,554.6 573.8,562.3 579.0,577.7 599.5,580.3" fill="none" stroke="#eceef1" stroke-width="0.7" stroke-linejoin="round" stroke-linecap="round"/>
<path d="M611.8,531.0 599.5,546.9 604.6,562.3 625.1,572.6" fill="none" stroke="#eceef1" stroke-width="0.7" stroke-linejoin="round" stroke-linecap="round"/>
<path d="M548.2,593.1 563.6,590.5 573.8,603.3 594.4,603.3 599.5,580.3" fill="none" stroke="#eceef1" stroke-width="0.7" stroke-linejoin="round" stroke-linecap="round"/>
<path d="M545.6,649.5 568.7,649.5 568.7,672.6 543.1,672.6" fill="none" stroke="#eceef1" stroke-width="0.7" stroke-linejoin="round" stroke-linecap="round"/>
<path d="M573.8,603.3 573.8,634.1 594.4,634.1 594.4,654.6 614.9,654.6" fill="none" stroke="#eceef1" stroke-width="0.7" stroke-linejoin="round" stroke-linecap="round"/>
<path d="M568.7,672.6 584.1,672.6 589.2,684.1" fill="none" stroke="#eceef1" stroke-width="0.7" stroke-linejoin="round" stroke-linecap="round"/>
<ellipse cx="603.6" cy="610" rx="2.6" ry="3.6" fill="#f0f2f5" transform="rotate(20 603.6 610)"/>
<path d="M501.0,484.6 505.6,481.7 511.3,480.0 517.0,478.9 522.7,478.3 528.4,477.7 529.5,481.2 528.4,484.6 529.5,488.0 531.2,492.6 531.8,497.1 534.1,500.8 536.7,511.0 539.2,520.0 540.5,525.1 532.8,530.3 525.1,535.4 517.4,540.5 514.9,537.9 505.9,531.5 496.9,525.1 487.9,518.7 480.3,512.3 486.8,503.4 493.6,498.8 498.7,495.4 500.1,491.4 500.8,488.0Z" fill="#fb6d23" stroke="#fdbd9c" stroke-width="0.7" stroke-linejoin="round"/>
<path d="M488.5,481.7 492.5,482.9 496.5,483.4 499.3,484.6 501.0,488.0 500.5,491.4 499.9,494.8 497.6,496.6 494.2,497.7 490.8,499.4 487.4,502.3 484.5,504.5 481.7,506.8 477.7,511.0 470.0,511.0 473.8,503.3 477.7,495.6 480.3,489.2Z" fill="#9be51f" stroke="#d2f39a" stroke-width="0.7" stroke-linejoin="round"/>
<path d="M581.0,498.2 599.5,498.2 608.5,499.5 611.5,504.6 607.7,511.0 610.0,521.3 612.1,531.0 581.5,531.0 581.0,513.6Z" fill="#eac030" stroke="#f5e2a1" stroke-width="0.7" stroke-linejoin="round"/>
<path d="M555.9,704.6 563.6,702.1 566.2,695.6 567.4,700.8 573.8,698.2 581.5,693.1 586.7,687.9 591.8,684.1 598.2,684.1 600.8,690.5 603.3,696.9 600.8,705.9 594.4,713.6 586.7,720.0 579.0,722.6 568.7,725.1 562.3,723.8 558.5,716.2Z" fill="#fb6d23" stroke="#fdbd9c" stroke-width="0.7" stroke-linejoin="round"/>
<circle cx="589.2" cy="707.2" r="2.6" fill="#eef1f4"/>
<circle cx="600.3" cy="696.4" r="1.7" fill="#eef1f4"/>
<path d="M577.1,416.2 581.7,416.0 586.2,415.3 590.8,416.0 595.3,416.0 599.3,414.8 603.3,414.5 606.7,416.2 610.1,419.1 613.6,422.5 618.1,424.2 622.7,425.3 626.1,427.0 625.5,431.0 623.8,435.0 620.4,437.9 618.1,441.3 614.7,443.6 610.1,443.6 605.6,442.4 602.2,443.6 598.7,444.7 594.2,443.6 593.0,445.3 590.8,443.6 590.2,440.1 589.1,435.6 586.2,433.3 581.7,432.7 577.1,433.3 573.1,432.2 572.5,428.7 574.8,424.8 577.1,421.0Z" fill="#e2e4e7" stroke="#f1f2f4" stroke-width="0.7" stroke-linejoin="round"/>
<path d="M605.6,444.1 610.1,443.6 613.6,445.8 611.3,448.1 607.9,448.7 605.6,447.0Z" fill="#e2e4e7" stroke="#f1f2f4" stroke-width="0.7" stroke-linejoin="round"/>
<path d="M554.6,443.6 560.3,443.6 562.6,441.3 567.1,439.6 571.1,439.0 574.0,441.3 575.1,444.7 574.0,449.3 574.0,453.8 574.5,458.4 572.8,461.8 569.4,462.9 567.1,464.1 566.0,462.9 564.8,459.5 562.6,456.1 560.3,453.2 557.4,450.4 555.2,447.0Z" fill="#e2e4e7" stroke="#f1f2f4" stroke-width="0.7" stroke-linejoin="round"/>
<path d="M625.0,452.1 630.7,453.8 636.4,455.5 642.1,456.7 646.6,458.4 650.0,462.9 651.2,467.5 648.9,469.8 645.5,468.6 642.1,469.8 638.6,468.6 636.9,464.1 634.1,461.2 628.4,460.4 625.5,456.1Z" fill="#e2e4e7" stroke="#f1f2f4" stroke-width="0.7" stroke-linejoin="round"/>
<path d="M330.7,270.0 447.2,270.0 446.2,282.3 444.1,300.7 441.1,310.9 439.0,319.1 430.9,325.2 422.7,329.3 414.5,331.3 408.4,335.4 402.2,341.6 394.1,347.7 387.9,353.8 381.8,360.0 377.7,368.1 372.6,374.3 367.5,371.2 361.3,366.1 355.2,355.9 351.1,345.6 348.0,335.4 344.0,327.2 342.9,317.0 339.9,302.7 334.8,286.4Z" fill="#e4e6e9" stroke="#e4e6e9" stroke-width="0.8" stroke-linejoin="round"/>
<path d="M434.9,347.7 443.1,345.6 453.3,345.2 461.5,346.7 464.6,350.8 461.5,354.8 453.3,357.9 447.2,359.6 442.1,356.9 439.0,352.8Z" fill="#e4e6e9" stroke="#e4e6e9" stroke-width="0.8" stroke-linejoin="round"/>
<path d="M529.1,386.0 524.5,384.9 522.8,379.8 522.2,375.2 521.1,370.1 523.9,367.2 528.5,363.8 533.0,359.8 537.6,355.8 541.6,351.3 545.0,346.7 549.0,341.0 553.0,336.5 557.0,331.9 561.5,328.5 567.2,325.6 572.9,322.8 578.6,320.5 584.3,319.9 590.0,319.4 595.7,321.1 596.9,322.8 593.4,326.8 592.3,330.8 594.0,335.3 594.6,341.0 595.2,346.7 596.3,352.4 597.4,357.0 599.1,361.5 598.6,365.5 595.7,369.5 592.9,372.9 590.0,375.8 585.5,376.9 580.9,378.1 576.4,377.5 572.9,375.8 571.2,372.9 570.7,368.4 571.2,363.8 572.9,360.4 575.8,357.0 578.6,354.1 580.9,351.3 581.5,349.0 578.6,347.9 575.2,348.4 572.9,350.7 571.2,354.1 568.9,357.5 566.1,360.4 562.1,362.7 559.3,366.1 557.5,370.1 558.1,374.1 560.4,377.5 562.1,379.8 560.4,382.1 557.5,384.3 556.4,387.7 554.7,391.2 553.0,394.6 550.7,397.4 547.9,399.1 545.6,396.9 543.9,393.4 542.2,390.0 540.5,386.6 539.3,383.2 537.6,381.5 535.3,383.2 532.5,385.5Z" fill="#9be51f" stroke="#d2f39a" stroke-width="0.7" stroke-linejoin="round"/>
<path d="M538.7,382.6 540.5,378.6 542.2,372.9 542.7,367.2 543.9,361.5 546.7,355.8 550.1,350.1 553.6,344.4 557.0,338.7 561.5,334.2 566.1,331.3 570.7,330.2 574.1,331.3" fill="none" stroke="#d7f4a5" stroke-width="0.9" stroke-linejoin="round" stroke-linecap="round"/>
<path d="M578.6,347.9 577.5,343.3 576.4,337.6 574.6,333.0 574.1,331.3 578.6,329.6 582.1,327.4 584.3,323.9 586.6,321.7" fill="none" stroke="#d7f4a5" stroke-width="0.9" stroke-linejoin="round" stroke-linecap="round"/>
<path d="M531.3,394.6 534.2,392.9 536.5,394.6 537.0,398.0 535.9,401.4 535.3,404.8 533.6,407.1 531.9,404.8 531.3,400.3Z" fill="#9be51f" stroke="#d2f39a" stroke-width="0.7" stroke-linejoin="round"/>
<path d="M538.2,400.3 541.6,399.7 542.7,402.6 539.9,403.7Z" fill="#9be51f" stroke="#d2f39a" stroke-width="0.7" stroke-linejoin="round"/>
<path d="M577.5,382.1 582.1,380.9 586.6,381.5 588.3,384.3 587.2,387.7 583.8,388.9 579.8,388.3 577.5,386.0Z" fill="#9be51f" stroke="#d2f39a" stroke-width="0.7" stroke-linejoin="round"/>
<path d="M570.1,391.2 574.1,390.0 577.5,388.3 579.8,388.9 583.8,389.5 587.2,388.3 588.3,392.3 586.6,395.7 582.1,396.9 578.6,396.3 575.2,395.2 571.8,395.7 569.7,394.0Z" fill="#eac030" stroke="#f5e2a1" stroke-width="0.7" stroke-linejoin="round"/>
<path d="M569.7,394.6 571.8,396.0 575.2,395.5 578.6,396.6 582.1,397.1 584.9,399.1 583.8,403.7 580.9,407.1 577.5,407.7 575.2,404.8 572.9,401.4 570.1,399.1Z" fill="#eac030" stroke="#f5e2a1" stroke-width="0.7" stroke-linejoin="round"/>
<path d="M589.1,398.0 593.0,396.8 597.6,398.5 599.9,402.5 602.2,407.1 603.9,409.9 601.0,412.2 599.3,414.5 595.3,415.6 590.8,415.6 586.2,415.1 581.7,415.6 578.2,415.1 577.1,411.7 579.4,408.0 582.8,405.0 586.2,401.6Z" fill="#fb6d23" stroke="#fdbd9c" stroke-width="0.7" stroke-linejoin="round"/>
<path d="M550.0,407.1 554.6,404.8 560.3,403.1 566.0,403.7 569.4,402.5 574.0,403.7 575.7,402.8 564.6,403.1 569.1,402.0 573.7,402.8 576.5,406.2 577.1,411.7 576.0,416.2 577.1,420.8 574.8,424.2 572.0,426.5 572.8,427.0 569.4,426.5 566.0,425.9 562.6,424.2 559.1,423.0 555.7,421.3 552.9,420.8 550.0,418.5 549.5,413.9Z" fill="#a30b11" stroke="#d59193" stroke-width="0.7" stroke-linejoin="round"/>
<path d="M477.1,407.1 479.9,404.8 483.4,406.0 486.8,407.7 487.4,411.1 485.6,413.9 482.2,415.6 478.8,416.8 476.5,415.6 477.1,412.2 476.0,409.4Z" fill="#fb6d23" stroke="#fdbd9c" stroke-width="0.7" stroke-linejoin="round"/>
<path d="M483.4,402.5 486.8,402.0 487.9,404.8 486.8,407.1 483.9,406.0Z" fill="#9be51f" stroke="#d2f39a" stroke-width="0.7" stroke-linejoin="round"/>
<path d="M490.2,390.0 494.2,386.6 498.2,387.2 499.3,393.4 497.6,396.8 499.3,399.1 502.2,402.5 503.9,406.0 505.0,409.4 507.9,411.7 509.6,414.5 508.4,417.4 505.6,419.1 502.2,419.9 498.7,420.5 495.3,421.0 492.5,421.9 491.3,420.2 494.2,418.5 495.3,416.8 493.0,415.6 493.6,413.4 495.3,411.1 494.2,408.8 496.5,406.5 494.8,403.7 493.0,400.8 491.9,396.8 490.8,393.4Z" fill="#9be51f" stroke="#d2f39a" stroke-width="0.7" stroke-linejoin="round"/>
<path d="M494.2,431.6 497.6,430.5 501.6,429.3 503.9,427.6 505.6,425.3 509.0,423.6 511.9,421.3 514.7,420.8 517.0,423.0 520.4,425.3 523.8,427.6 527.2,429.3 528.4,432.2 527.2,435.6 526.1,439.0 525.5,442.4 526.7,445.8 527.2,449.3 528.4,451.5 526.1,452.1 522.7,451.5 519.3,450.4 515.8,451.5 513.6,453.8 511.9,455.0 507.9,453.8 504.4,452.7 502.2,452.1 502.7,448.1 503.3,443.6 501.0,440.1 498.2,437.9 495.3,435.6 493.0,433.3Z" fill="#eac030" stroke="#f5e2a1" stroke-width="0.7" stroke-linejoin="round"/>
<path d="M532.4,455.5 534.1,456.1 534.1,460.7 532.9,461.8 532.0,459.5Z" fill="#eac030" stroke="#f5e2a1" stroke-width="0.7" stroke-linejoin="round"/>
<path d="M514.7,420.2 517.0,419.1 519.8,419.6 522.1,421.3 522.7,423.6 521.5,425.3 519.8,424.8 517.0,423.0Z" fill="#fb6d23" stroke="#fdbd9c" stroke-width="0.7" stroke-linejoin="round"/>
<path d="M519.3,414.5 522.1,411.7 525.5,410.5 527.2,412.2 526.7,416.2 525.0,419.6 523.8,421.9 522.1,421.3 519.8,419.6 519.3,417.4Z" fill="#9be51f" stroke="#d2f39a" stroke-width="0.7" stroke-linejoin="round"/>
<path d="M525.5,410.5 528.4,408.8 530.7,407.1 532.9,406.5 535.2,407.7 539.8,407.1 544.3,406.5 547.7,408.2 548.9,412.8 549.5,417.4 548.9,420.8 546.0,423.0 544.9,425.3 546.6,428.7 548.3,431.0 545.5,433.9 542.1,434.4 538.6,433.9 535.2,434.4 531.8,433.9 529.5,432.7 528.4,432.2 527.2,429.3 527.8,424.2 525.0,419.6 526.7,416.2 527.2,412.2Z" fill="#9be51f" stroke="#d2f39a" stroke-width="0.7" stroke-linejoin="round"/>
<rect x="520.6" y="423.3" width="7.1" height="5.9" fill="#9be51f" stroke="#e9e45a" stroke-width="0.8"/>
<path d="M530.7,396.8 533.5,394.0 535.2,395.7 535.8,400.3 534.6,404.8 532.9,406.5 531.2,403.7Z" fill="#9be51f" stroke="#d2f39a" stroke-width="0.7" stroke-linejoin="round"/>
<path d="M537.5,400.8 540.9,400.3 541.5,403.1 538.6,403.7Z" fill="#9be51f" stroke="#d2f39a" stroke-width="0.7" stroke-linejoin="round"/>
<path d="M544.9,424.2 547.7,422.5 551.2,421.9 554.6,423.0 558.0,424.2 561.4,425.3 560.3,427.6 556.9,428.2 553.4,429.3 550.0,429.3 547.2,428.2 545.5,426.5Z" fill="#fb6d23" stroke="#fdbd9c" stroke-width="0.7" stroke-linejoin="round"/>
<path d="M560.3,428.2 563.7,426.5 568.3,427.0 572.8,427.6 565.7,426.2 572.0,427.0 571.4,429.9 566.8,432.2 562.3,433.3 568.3,431.0 563.7,431.6 560.3,432.2 558.0,431.0 558.6,429.3Z" fill="#eac030" stroke="#f5e2a1" stroke-width="0.7" stroke-linejoin="round"/>
<path d="M538.6,434.4 542.1,434.7 545.5,434.2 548.3,431.6 551.2,429.9 554.6,429.9 558.0,431.3 557.4,434.4 555.7,436.7 552.3,437.9 548.3,438.4 544.3,437.9 540.9,437.3 538.6,436.2Z" fill="#eac030" stroke="#f5e2a1" stroke-width="0.7" stroke-linejoin="round"/>
<path d="M555.7,435.0 559.1,433.9 563.7,432.2 568.3,431.6 563.4,433.3 568.0,432.4 571.4,431.3 572.0,433.9 570.3,437.9 566.8,440.1 562.3,441.3 567.1,439.0 562.6,440.7 558.6,441.3 556.3,439.6 555.2,437.3Z" fill="#a30b11" stroke="#d59193" stroke-width="0.7" stroke-linejoin="round"/>
<path d="M526.1,439.0 528.4,436.7 531.8,435.6 535.2,435.0 538.6,436.2 538.1,439.0 535.2,440.1 531.8,441.3 528.4,441.9Z" fill="#eac030" stroke="#f5e2a1" stroke-width="0.7" stroke-linejoin="round"/>
<path d="M548.3,438.8 552.3,438.2 555.2,437.9 554.6,440.1 551.2,441.3 548.9,440.7Z" fill="#eac030" stroke="#f5e2a1" stroke-width="0.7" stroke-linejoin="round"/>
<path d="M550.0,441.3 554.6,440.7 558.6,441.9 560.3,443.6 556.9,443.6 554.0,443.6 554.6,446.4 556.9,449.3 555.2,449.3 552.3,446.4 550.0,443.6Z" fill="#eac030" stroke="#f5e2a1" stroke-width="0.7" stroke-linejoin="round"/>
<path d="M528.4,441.9 531.8,441.5 535.2,440.4 538.6,439.2 542.1,437.9 545.5,438.4 548.3,439.0 548.9,441.3 546.6,442.4 544.3,444.1 544.9,447.0 547.2,450.4 550.0,453.8 552.9,457.2 556.3,460.1 559.1,462.9 560.3,465.2 558.0,465.2 556.3,463.5 554.6,465.2 555.7,468.6 555.2,472.1 553.4,472.6 552.9,469.2 552.3,465.8 550.6,462.9 547.7,460.1 544.9,457.2 542.1,454.4 539.8,451.5 538.6,448.1 536.4,445.8 533.5,446.4 530.7,448.1 528.9,451.0 527.2,447.0 526.7,444.1Z" fill="#eac030" stroke="#f5e2a1" stroke-width="0.7" stroke-linejoin="round"/>
<path d="M531.2,461.2 533.5,460.7 534.1,465.2 532.9,469.2 531.2,468.6 530.9,464.6Z" fill="#eac030" stroke="#f5e2a1" stroke-width="0.7" stroke-linejoin="round"/>
<path d="M544.1,473.4 548.0,472.8 551.9,472.7 551.2,475.7 549.1,477.5 546.2,476.6Z" fill="#eac030" stroke="#f5e2a1" stroke-width="0.7" stroke-linejoin="round"/>
<rect x="546.4" y="478.9" width="5.7" height="5.5" fill="#9be51f" stroke="#d6f08a" stroke-width="0.6"/>
<path d="M479.9,452.7 483.9,451.5 488.5,452.1 494.2,452.7 498.7,452.5 502.2,452.1 504.4,452.9 507.9,454.0 511.9,455.2 513.6,457.2 510.1,460.1 507.3,462.9 505.6,466.4 503.9,469.8 502.2,473.2 499.3,476.0 495.3,477.2 491.9,478.3 488.5,479.5 486.8,477.7 485.6,474.3 485.6,469.8 486.2,465.2 486.8,460.7 486.2,458.4 482.2,457.8 479.9,456.7 479.4,454.4Z" fill="#eac030" stroke="#f5e2a1" stroke-width="0.7" stroke-linejoin="round"/>
<path d="M479.9,457.2 482.2,458.0 486.2,458.6 486.8,461.2 486.2,465.2 485.6,469.8 485.3,474.3 483.4,476.0 480.5,476.0 480.3,472.1 479.4,468.6 479.9,464.1 480.5,460.1Z" fill="#9be51f" stroke="#d2f39a" stroke-width="0.7" stroke-linejoin="round"/>
<path d="M572.0,433.9 577.1,433.5 581.7,433.1 586.2,433.9 589.1,436.2 589.9,440.1 590.8,443.6 592.5,445.8 590.2,448.1 586.8,449.3 582.2,449.8 578.2,450.4 574.8,449.8 573.1,447.0 570.3,443.6 568.5,440.1 570.3,437.9Z" fill="#fb6d23" stroke="#fdbd9c" stroke-width="0.7" stroke-linejoin="round"/>
<path d="M574.8,450.4 578.8,451.0 582.8,450.4 587.4,449.8 590.2,448.7 589.6,452.1 587.9,455.5 586.8,458.4 582.8,459.5 578.8,459.5 575.4,458.4 574.2,454.4Z" fill="#fb6d23" stroke="#fdbd9c" stroke-width="0.7" stroke-linejoin="round"/>
<path d="M567.0,467.2 568.5,464.6 571.2,463.1 574.2,462.3 576.5,461.9 575.7,463.8 573.8,465.0 574.2,467.2 575.3,469.5 576.1,471.8 575.0,472.9 573.4,472.6 574.2,474.8 573.8,477.5 572.3,478.6 570.8,477.1 569.6,474.5 569.3,472.2 568.1,469.9Z" fill="#eac030" stroke="#f5e2a1" stroke-width="0.7" stroke-linejoin="round"/>
<path d="M576.5,482.6 582.6,483.2 582.7,484.4 576.6,483.8Z" fill="#f0e2a8" stroke="#f0e2a8" stroke-width="0.3" stroke-linejoin="round"/>
<path d="M585.6,459.7 589.9,459.3 590.5,462.9 587.4,463.8Z" fill="#fb6d23" stroke="#fdbd9c" stroke-width="0.7" stroke-linejoin="round"/>
<path d="M586.8,464.1 590.8,462.9 595.3,461.2 599.9,459.5 605.6,458.4 611.3,459.5 617.0,460.7 622.7,461.2 628.4,460.7 634.1,461.2 636.9,464.1 638.6,468.6 638.1,473.2 636.4,475.5 631.8,475.5 627.2,476.0 622.7,476.6 618.1,477.7 613.6,478.3 611.3,480.0 607.9,478.9 604.4,478.3 599.9,477.7 595.3,478.9 592.5,477.7 589.6,475.5 587.9,472.1 587.4,468.6Z" fill="#fb6d23" stroke="#fdbd9c" stroke-width="0.7" stroke-linejoin="round"/>
<rect x="602.8" y="482.4" width="5.9" height="5.6" fill="#fb6d23" stroke="#fbb98a" stroke-width="0.6"/>
<path d="M846.2,682.8 852.6,679.0 861.6,675.2 869.2,671.3 873.1,664.9 878.2,658.5 884.6,655.9 891.0,654.6 894.9,649.5 901.3,646.9 907.7,648.2 912.8,646.9 911.6,653.4 907.7,658.5 914.1,662.3 920.5,666.2 925.7,667.5 927.7,659.8 929.5,650.8 931.3,644.4 934.6,652.1 938.5,661.0 941.1,668.7 946.2,672.6 950.0,680.3 956.5,686.7 961.6,694.4 963.6,703.4 962.1,713.6 959.0,722.6 955.2,731.6 952.6,738.0 947.5,740.6 939.8,741.8 933.4,740.6 927.0,736.7 922.6,730.3 920.5,723.9 916.7,720.0 915.4,726.5 911.6,723.9 907.7,718.8 901.3,716.2 892.3,716.2 883.4,718.8 874.4,722.6 866.7,723.9 859.0,726.5 852.6,727.0 850.0,721.3 850.8,712.3 848.7,703.4 846.7,693.1Z" fill="#a30b11" stroke="#a30b11" stroke-width="0.8" stroke-linejoin="round"/>
<path d="M938.0,750.8 943.6,750.3 948.8,751.6 947.5,757.2 943.6,761.1 939.8,757.2Z" fill="#a30b11" stroke="#a30b11" stroke-width="0.8" stroke-linejoin="round"/>
<path d="M1022.6,728.5 1025.2,731.6 1027.0,736.7 1032.1,738.0 1037.2,738.8 1035.4,744.4 1030.8,748.3 1027.0,752.6 1024.4,749.5 1025.7,743.1 1024.4,736.7Z" fill="#eac030" stroke="#eac030" stroke-width="0.8" stroke-linejoin="round"/>
<path d="M1024.4,753.4 1022.6,758.5 1018.0,763.6 1014.2,768.8 1009.0,773.9 1004.7,772.6 1006.5,767.5 1011.6,761.1 1016.7,755.9 1020.6,751.6Z" fill="#eac030" stroke="#eac030" stroke-width="0.8" stroke-linejoin="round"/>
<path d="M926.4,617.4 935.9,620.0 943.6,625.1 950.0,631.6 953.9,638.0 951.3,639.2 944.9,635.4 938.5,632.8 933.4,635.4 929.5,639.2 926.4,634.1Z" fill="#e2e4e7" stroke="#e2e4e7" stroke-width="0.8" stroke-linejoin="round"/>
<path d="M953.9,622.1 959.5,621.3 960.3,624.4 955.2,625.1Z" fill="#e2e4e7" stroke="#e2e4e7" stroke-width="0.3" stroke-linejoin="round"/>
<path d="M911.6,612.3 919.3,612.3 926.4,617.4 926.4,634.1 920.5,632.8 918.0,626.4 912.8,621.3 907.7,617.4 902.6,618.7 901.3,613.6 897.5,609.8 902.6,608.5 906.4,612.3Z" fill="#eac030" stroke="#eac030" stroke-width="0.8" stroke-linejoin="round"/>
<path d="M879.5,640.5 888.5,641.8 888.5,643.6 880.0,642.6Z" fill="#eac030" stroke="#eac030" stroke-width="0.3" stroke-linejoin="round"/>
<path d="M884.6,614.9 889.8,614.1 890.3,616.7 885.2,617.4Z" fill="#eac030" stroke="#eac030" stroke-width="0.3" stroke-linejoin="round"/>
<path d="M887.2,600.8 890.3,600.3 891.0,608.5 888.5,609.0Z" fill="#eac030" stroke="#eac030" stroke-width="0.3" stroke-linejoin="round"/>
<defs><linearGradient id="fade" x1="0" y1="0" x2="0" y2="1"><stop offset="0" stop-color="#f3f7fa" stop-opacity="1"/><stop offset="0.2" stop-color="#f3f7fa" stop-opacity="0.9"/><stop offset="1" stop-color="#f3f7fa" stop-opacity="0"/></linearGradient></defs>
<rect x="0" y="266" width="1076" height="54" fill="url(#fade)"/>
<defs><linearGradient id="fadeb" x1="0" y1="0" x2="0" y2="1"><stop offset="0" stop-color="#f3f7fa" stop-opacity="0"/><stop offset="1" stop-color="#f3f7fa" stop-opacity="1"/></linearGradient></defs>
<rect x="0" y="777" width="1076" height="22" fill="url(#fadeb)"/>
<rect x="0" y="798.5" width="1076" height="14" fill="#f3f7fa"/>
</g>
<rect x="32.1" y="45.7" width="25.5" height="220.1" fill="#efc32b"/>
<text x="72" y="91.2" font-size="62" font-weight="bold" fill="#13294a" textLength="634" lengthAdjust="spacingAndGlyphs">Which Countries Act</text>
<text x="72.3" y="161.8" font-size="62" font-weight="bold" fill="#13294a" textLength="722.5" lengthAdjust="spacingAndGlyphs">to Protect the Climate?</text>
<text x="72.3" y="222.3" font-size="36.5" font-weight="normal" fill="#4c5b6f" textLength="948" lengthAdjust="spacingAndGlyphs">Countries ranked by their climate protection performance</text>
<text x="72.6" y="265.7" font-size="36.5" font-weight="normal" fill="#4c5b6f" textLength="944.5" lengthAdjust="spacingAndGlyphs">according to the Climate Change Performance Index 2023</text>
<rect x="32" y="588" width="16.5" height="16" fill="#5b9a0f"/>
<text x="58" y="602.7" font-size="22" font-weight="normal" fill="#1b2a3b" textLength="96" lengthAdjust="spacingAndGlyphs">Very high</text>
<rect x="32" y="619" width="16.5" height="16" fill="#9ae51e"/>
<text transform="translate(58,633.6) scale(1.07,1)" font-size="22" font-weight="normal" fill="#1b2a3b">High</text>
<rect x="32" y="649.5" width="16.5" height="16" fill="#e9bf33"/>
<text transform="translate(58,664.4) scale(1.07,1)" font-size="22" font-weight="normal" fill="#1b2a3b">Medium</text>
<rect x="32" y="680" width="16.5" height="16" fill="#fb6d23"/>
<text transform="translate(58,695.4) scale(1.07,1)" font-size="22" font-weight="normal" fill="#1b2a3b">Low</text>
<rect x="32" y="711" width="16.5" height="16" fill="#a00c13"/>
<text transform="translate(58,726.1) scale(1.07,1)" font-size="22" font-weight="normal" fill="#1b2a3b">Very Low</text>
<rect x="32" y="741.5" width="16.5" height="16" fill="#e1e3e6"/>
<text x="58" y="756.7" font-size="22" font-weight="normal" fill="#1b2a3b" textLength="131.5" lengthAdjust="spacingAndGlyphs">Not included</text>
<text transform="translate(155,596) scale(1.07,1)" font-size="15" font-weight="normal" fill="#1b2a3b">*</text>
<rect x="616.5" y="616.5" width="210" height="202" fill="#f3f6fa" stroke="#4b5560" stroke-width="1.2"/>
<text x="625" y="643" font-size="21.5" font-weight="bold" fill="#1b2a3b" textLength="193.5" lengthAdjust="spacingAndGlyphs">Best performance</text>
<text x="655" y="674.3" font-size="22" font-weight="normal" fill="#1b2a3b" textLength="95.5" lengthAdjust="spacingAndGlyphs">Denmark</text>
<text x="655" y="708" font-size="22" font-weight="normal" fill="#1b2a3b" textLength="80.5" lengthAdjust="spacingAndGlyphs">Sweden</text>
<text x="655" y="741" font-size="22" font-weight="normal" fill="#1b2a3b" textLength="50.7" lengthAdjust="spacingAndGlyphs">Chile</text>
<text x="655" y="774.7" font-size="22" font-weight="normal" fill="#1b2a3b" textLength="89.5" lengthAdjust="spacingAndGlyphs">Morocco</text>
<text x="655" y="807.5" font-size="22" font-weight="normal" fill="#1b2a3b" textLength="50.2" lengthAdjust="spacingAndGlyphs">India</text>
<defs>
<clipPath id="fc0"><circle cx="636.7" cy="666.2" r="12.7"/></clipPath>
<clipPath id="fc1"><circle cx="636.7" cy="699.9" r="12.7"/></clipPath>
<clipPath id="fc2"><circle cx="636.7" cy="732.9" r="12.7"/></clipPath>
<clipPath id="fc3"><circle cx="636.7" cy="766.4" r="12.7"/></clipPath>
<clipPath id="fc4"><circle cx="636.7" cy="799.8" r="12.7"/></clipPath>
</defs>
<g clip-path="url(#fc0)"><rect x="624.0" y="653.5" width="25.4" height="25.4" fill="#c9143a"/><rect x="631.1" y="653.5" width="4.6" height="25.4" fill="#fbfbfb"/><rect x="624.0" y="663.6" width="25.4" height="5.2" fill="#fbfbfb"/></g>
<g clip-path="url(#fc1)"><rect x="624.0" y="687.1999999999999" width="25.4" height="25.4" fill="#35739f"/><rect x="631.1" y="687.1999999999999" width="5.2" height="25.4" fill="#f3cf35"/><rect x="624.0" y="697.1" width="25.4" height="5.6" fill="#f3cf35"/></g>
<g clip-path="url(#fc2)"><rect x="624.0" y="720.1999999999999" width="25.4" height="12.7" fill="#fbfbfb"/><rect x="624.0" y="732.9" width="25.4" height="12.7" fill="#da2e28"/><rect x="624.0" y="720.1999999999999" width="11.1" height="12.7" fill="#2b52a3"/><polygon points="630.10,723.90 630.81,725.93 632.95,725.97 631.24,727.27 631.86,729.33 630.10,728.10 628.34,729.33 628.96,727.27 627.25,725.97 629.39,725.93" fill="#ffffff"/></g>
<g clip-path="url(#fc3)"><rect x="624.0" y="753.6999999999999" width="25.4" height="25.4" fill="#c5272f"/><polygon points="636.70,763.00 637.55,765.44 640.12,765.49 638.07,767.04 638.82,769.51 636.70,768.04 634.58,769.51 635.33,767.04 633.28,765.49 635.85,765.44" fill="#3b3a1c"/></g>
<g clip-path="url(#fc4)"><rect x="624.0" y="787.0999999999999" width="25.4" height="25.4" fill="#fbfbfb"/><rect x="624.0" y="787.0999999999999" width="25.4" height="8.6" fill="#f79a3a"/><rect x="624.0" y="804.1999999999999" width="25.4" height="12.7" fill="#1f8a1c"/><circle cx="636.7" cy="800.0" r="3.1" fill="#2a3a8c"/><circle cx="636.7" cy="800.0" r="1.2" fill="#6d78b8"/></g>
<circle cx="636.7" cy="666.2" r="12.7" fill="none" stroke="#e3e6ea" stroke-width="0.8"/>
<circle cx="636.7" cy="699.9" r="12.7" fill="none" stroke="#e3e6ea" stroke-width="0.8"/>
<circle cx="636.7" cy="732.9" r="12.7" fill="none" stroke="#e3e6ea" stroke-width="0.8"/>
<circle cx="636.7" cy="766.4" r="12.7" fill="none" stroke="#e3e6ea" stroke-width="0.8"/>
<circle cx="636.7" cy="799.8" r="12.7" fill="none" stroke="#e3e6ea" stroke-width="0.8"/>
<text x="33.6" y="831.8" font-size="25.3" font-weight="normal" fill="#4c5b6f" textLength="461" lengthAdjust="spacingAndGlyphs">* no country received this classification</text>
<text x="33.3" y="863.4" font-size="25.3" font-weight="normal" fill="#4c5b6f" textLength="947" lengthAdjust="spacingAndGlyphs">59 countries evaluated on status, trend and target of per-capita greenhouse gas</text>
<text x="33" y="895.8" font-size="25.3" font-weight="normal" fill="#4c5b6f" textLength="1014" lengthAdjust="spacingAndGlyphs">emissions, renewable energy and energy consumtion as well as climate change policy</text>
<text x="33.3" y="934.4" font-size="25.3" font-weight="normal" fill="#4c5b6f" textLength="831" lengthAdjust="spacingAndGlyphs">Sources: Germanwatch, NewClimate Institute, Climate Action Network</text>
<circle cx="58.7" cy="1000.6" r="24" fill="none" stroke="#c6ccd3" stroke-width="4.2"/>
<circle cx="123.4" cy="1000.6" r="24" fill="none" stroke="#c6ccd3" stroke-width="4.2"/>
<circle cx="188.5" cy="1000.6" r="24" fill="none" stroke="#c6ccd3" stroke-width="4.2"/>
<text x="42.3" y="1009.3" font-size="27.5" font-weight="bold" fill="#c6ccd3" textLength="33" lengthAdjust="spacingAndGlyphs">cc</text>
<circle cx="123.4" cy="986.5" r="3.6" fill="#c6ccd3"/>
<path d="M116.2 992.5h14.4v13h-3.4v13.5h-7.6v-13.5h-3.4z" fill="#c6ccd3"/>
<rect x="179" y="993.5" width="19.5" height="4.6" fill="#c6ccd3"/><rect x="179" y="1003" width="19.5" height="4.6" fill="#c6ccd3"/>
<text x="778.5" y="1025.2" font-size="71" font-weight="bold" fill="#13294a" stroke="#13294a" stroke-width="1.5" stroke-linejoin="round" textLength="199.5" lengthAdjust="spacingAndGlyphs">statista</text>
<g transform="translate(994.6,974.4)">
<rect x="0" y="0" width="52.4" height="52.6" rx="1.6" fill="#13294a"/>
<path d="M-0.5 35 C 12 35, 17 30, 22 21.5 C 27 13, 33 5.7, 53 5.7 L53 17.5 C 38 18.5, 34 25, 29 32.5 C 23 41, 15 46.7, -0.5 46.7 Z" fill="#f3f7fa"/>
</g>
</svg>
</body></html>
